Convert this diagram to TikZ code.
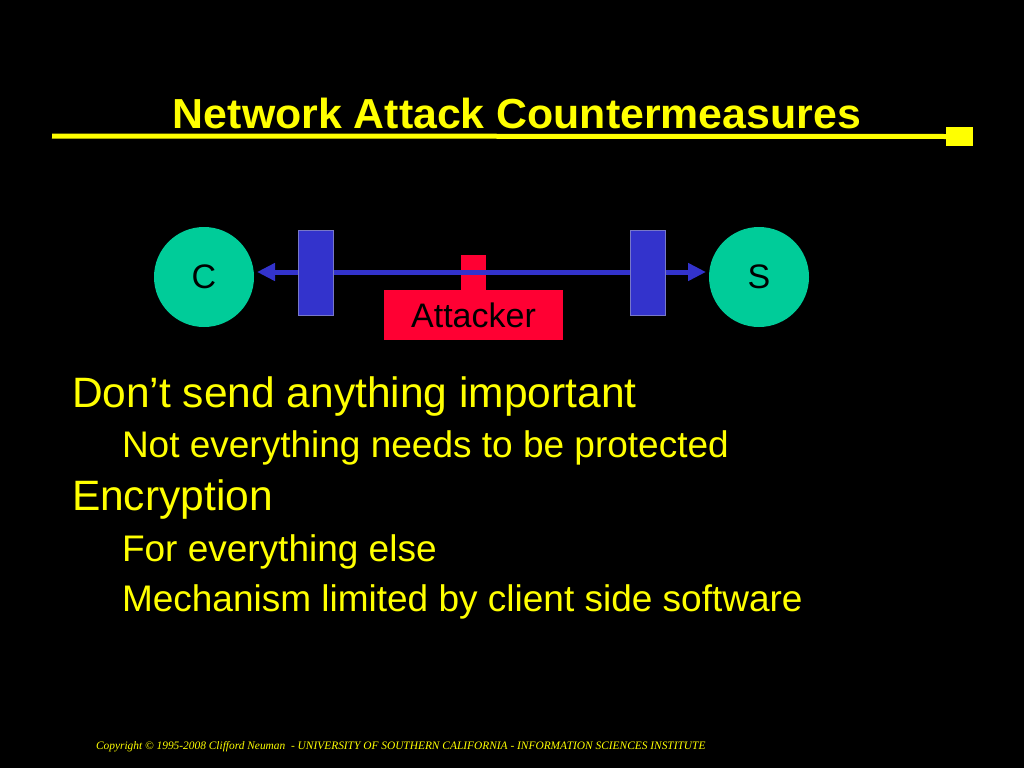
\documentclass[tikz,border=0pt]{standalone}
\usepackage{fontspec}
\setmainfont{Liberation Sans}
\newfontfamily\footfont{Liberation Serif}
\usetikzlibrary{arrows.meta}
\definecolor{ylw}{RGB}{255,255,0}
\definecolor{tealc}{RGB}{0,204,153}
\definecolor{blu}{RGB}{51,51,204}
\definecolor{bluedge}{RGB}{120,120,200}
\definecolor{rd}{RGB}{255,0,51}
\begin{document}
\begin{tikzpicture}[x=1pt,y=-1pt,
  every node/.style={inner sep=0pt, outer sep=0pt},
  endpoint/.style={circle, fill=tealc, minimum size=100pt, text=black, font=\fontsize{34}{34}\selectfont},
  shield/.style={rectangle, fill=blu, draw=bluedge, line width=0.8pt, minimum width=35pt, minimum height=85pt},
  redbox/.style={rectangle, fill=rd},
  lvlone/.style={anchor=base west, text=ylw, font=\fontsize{42.5}{42.5}\selectfont},
  lvltwo/.style={anchor=base west, text=ylw, font=\fontsize{37}{37}\selectfont},
  link/.style={blu, line width=5pt, {Triangle[length=18pt,width=17pt]}-{Triangle[length=18pt,width=17pt]}}
]
\useasboundingbox (0,0) rectangle (1024,768);
\fill[black] (0,0) rectangle (1024,768);
% title
\node[anchor=base, text=ylw, font=\bfseries\fontsize{42}{42}\selectfont] (title) at (517,128) {\scalebox{1.02}[1]{Network Attack Countermeasures}};
\coordinate (rulestart) at (52,136);
\node[rectangle, fill=ylw, minimum width=27pt, minimum height=19pt] (rulebox) at (959.5,136.5) {};
\draw[ylw, line width=5pt] (rulestart) -- (rulebox.west);
% diagram
\node[endpoint] (C) at (204,277) {C};
\node[endpoint] (S) at (759,277) {S};
\node[redbox, minimum width=25pt, minimum height=36pt] (stub) at (473.5,273) {};
\node[redbox, minimum width=179pt, minimum height=50pt, text=black, font=\fontsize{34}{34}\selectfont] (att) at (473.5,315) {\raisebox{-2pt}{Attacker}};
\coordinate (lt) at (257,272);
\coordinate (rt) at (706,272);
\draw[link] (lt) -- (rt);
\node[shield] (b1) at (315.5,272.5) {};
\node[shield] (b2) at (647.5,272.5) {};
% bullets
\node[lvlone] (t1) at (72,407) {Don’t send anything important};
\node[lvltwo] (t2) at (122,457) {Not everything needs to be protected};
\node[lvlone] (t3) at (72,510) {Encryption};
\node[lvltwo] (t4) at (122,561) {For everything else};
\node[lvltwo] (t5) at (122,611) {Mechanism limited by client side software};
% footer
\node[anchor=base west, text=ylw, font=\footfont\itshape\fontsize{11.4}{11.4}\selectfont] (foot) at (96,749) {Copyright © 1995-2008 Clifford Neuman\ \ - UNIVERSITY OF SOUTHERN CALIFORNIA - INFORMATION SCIENCES INSTITUTE};
\end{tikzpicture}
\end{document}
